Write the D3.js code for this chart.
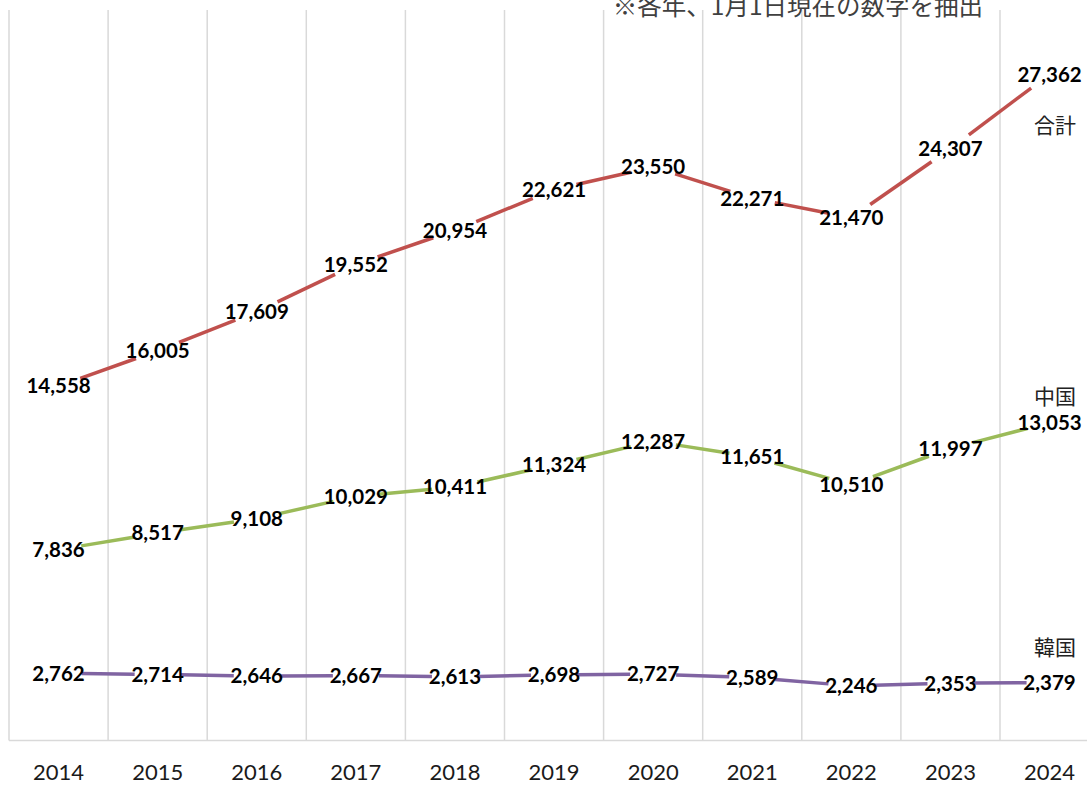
<!DOCTYPE html>
<html>
<head>
<meta charset="utf-8">
<script src="https://cdn.jsdelivr.net/npm/d3@7"></script>
<style>
    body { margin: 0; background: #fff; }
    .grid line { stroke: #d9d9d9; stroke-width: 1.5px; }
    .x-axis text { font: 22px Lato, sans-serif; fill: #1a1a1a; }
    .value-label { font: bold 20.5px Lato, sans-serif; fill: #000; }
    .series-label { font: 21px "Noto Sans CJK JP", sans-serif; fill: #222; }
    .note { font: 24.5px "Noto Sans CJK JP", sans-serif; fill: #404040; }
</style>
</head>
<body>
<svg class="target" width="1087" height="785"></svg>
<script>
    const years = ["2014", "2015", "2016", "2017", "2018", "2019", "2020", "2021", "2022", "2023", "2024"];
    const total = [14558, 16005, 17609, 19552, 20954, 22621, 23550, 22271, 21470, 24307, 27362];
    const china = [7836, 8517, 9108, 10029, 10411, 11324, 12287, 11651, 10510, 11997, 13053];
    const korea = [2762, 2714, 2646, 2667, 2613, 2698, 2727, 2589, 2246, 2353, 2379];

    const seriesNames = ["合計", "中国", "韓国"];
    const seriesColors = ["#c0504d", "#9bbb59", "#8064a2"];
    const noteText = "※各年、1月1日現在の数字を抽出";

    let svg = d3.select(".target"),
        width = +svg.attr("width"),
        height = +svg.attr("height");

    let x = d3.scaleBand().domain(years).range([9, 9 + 11 * 99.1]);
    let y = d3.scaleLinear().domain([0, 30000]).range([740.5, 10]);
    let cx = d => x(d) + x.bandwidth() / 2;

    // vertical gridlines on the category boundaries
    let bounds = years.map(d => x(d)).concat([x.range()[1]]);
    svg.append("g").attr("class", "grid")
        .selectAll("line")
        .data(bounds)
        .enter().append("line")
        .attr("x1", d => d).attr("x2", d => d)
        .attr("y1", y.range()[1]).attr("y2", y(0));

    svg.append("g").attr("class", "grid")
        .append("line")
        .attr("x1", 9).attr("x2", width)
        .attr("y1", y(0)).attr("y2", y(0));

    svg.append("g")
        .attr("class", "x-axis")
        .attr("transform", "translate(0," + y(0) + ")")
        .call(d3.axisBottom(x).tickSize(0).tickPadding(24))
        .call(g => g.select(".domain").remove());

    let series = [total, china, korea].map((vals, i) => ({
        name: seriesNames[i],
        color: seriesColors[i],
        points: vals.map((v, j) => ({year: years[j], value: v}))
    }));

    // lines are broken around each point, leaving room for the label
    const gap = 23;
    series.forEach(s => {
        let segs = d3.pairs(s.points).map(([a, b]) => {
            let x1 = cx(a.year), y1 = y(a.value), x2 = cx(b.year), y2 = y(b.value);
            let len = Math.hypot(x2 - x1, y2 - y1);
            let ux = (x2 - x1) / len, uy = (y2 - y1) / len;
            return {x1: x1 + ux * gap, y1: y1 + uy * gap, x2: x2 - ux * gap, y2: y2 - uy * gap};
        });
        svg.append("g")
            .selectAll("line")
            .data(segs)
            .enter().append("line")
            .attr("x1", d => d.x1).attr("y1", d => d.y1)
            .attr("x2", d => d.x2).attr("y2", d => d.y2)
            .attr("stroke", s.color)
            .attr("stroke-width", 3.5);
    });

    series.forEach(s => {
        svg.append("g")
            .selectAll("text")
            .data(s.points)
            .enter().append("text")
            .attr("class", "value-label")
            .attr("x", d => cx(d.year))
            .attr("y", d => y(d.value))
            .attr("dy", "0.36em")
            .attr("text-anchor", "middle")
            .text(d => d3.format(",")(d.value));
    });

    let nameY = [125, 396, 647];
    svg.append("g")
        .selectAll("text")
        .data(series)
        .enter().append("text")
        .attr("class", "series-label")
        .attr("x", 1076)
        .attr("y", (d, i) => nameY[i])
        .attr("dy", "0.36em")
        .attr("text-anchor", "end")
        .text(d => d.name);

    svg.append("text")
        .attr("class", "note")
        .attr("x", 983)
        .attr("y", 15)
        .attr("text-anchor", "end")
        .text(noteText);
</script>
</body>
</html>
